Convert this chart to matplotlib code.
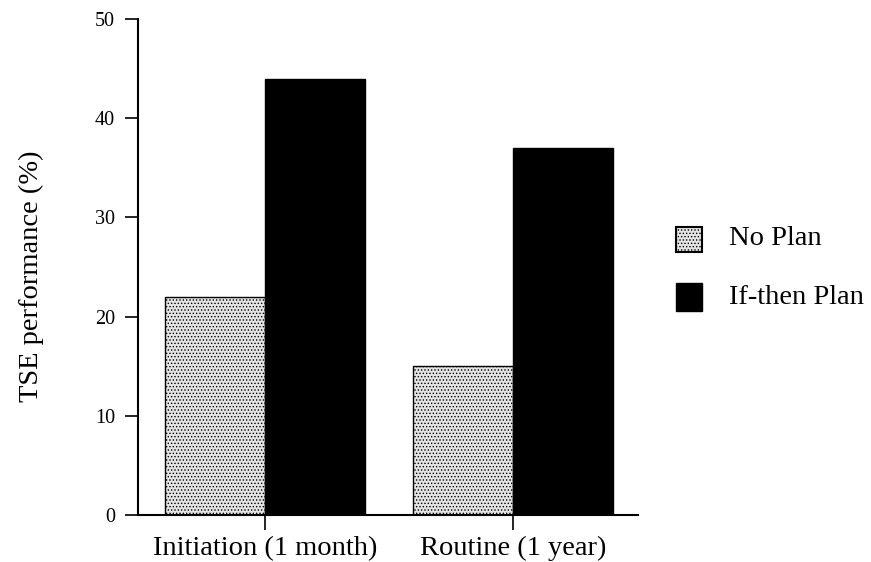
import matplotlib
matplotlib.use("Agg")
import matplotlib.pyplot as plt
import numpy as np
from matplotlib.patches import Rectangle

categories = ["Initiation (1 month)", "Routine (1 year)"]
series_names = ["No Plan", "If-then Plan"]
no_plan = [22, 15]
if_then = [44, 37]
yticks = [0, 10, 20, 30, 40, 50]

plt.rcParams['font.family'] = ['Liberation Serif', 'DejaVu Serif']
plt.rcParams['hatch.color'] = '#555555'
plt.rcParams['hatch.linewidth'] = 0.6

fig = plt.figure(figsize=(8.71, 5.62), dpi=100)
ax = fig.add_axes([138/871, 1-515/562, 500/871, 496/562])

x = np.arange(len(categories))
w = 100/248
ax.bar(x - w/2, no_plan, w, facecolor='#e4e4e4', edgecolor='black', hatch='.....', linewidth=1.0)
ax.bar(x + w/2, if_then, w, facecolor='black', edgecolor='black', linewidth=1.0)

ax.set_xlim((138-265)/248, (638-265)/248)
ax.set_ylim(0, 50)
ax.set_yticks(yticks)
ax.set_xticks(x)
ax.set_xticklabels(categories, fontsize=20.5)
ax.tick_params(axis='y', labelsize=14.5, length=9.5, width=1.2, direction='out', pad=7)
ax.tick_params(axis='x', length=11, width=1.2, direction='out', pad=4)
ax.spines['top'].set_visible(False)
ax.spines['right'].set_visible(False)
ax.spines['left'].set_linewidth(1.5)
ax.spines['bottom'].set_linewidth(1.5)

def fx(px): return px/871
def fy(py): return 1-py/562

fig.text(fx(31), fy(276), "TSE performance (%)", fontsize=20.5, rotation=90,
         ha='center', va='center')

sq = 26
fig.patches.append(Rectangle((fx(676), fy(252)), sq/871, 25/562, transform=fig.transFigure,
                             facecolor='#e4e4e4', edgecolor='black', hatch='.....', linewidth=1.5))
fig.patches.append(Rectangle((fx(676), fy(311)), sq/871, 28/562, transform=fig.transFigure,
                             facecolor='black', edgecolor='black', linewidth=1.0))
fig.text(fx(729), fy(238), series_names[0], fontsize=20.5, va='center', ha='left')
fig.text(fx(729), fy(297), series_names[1], fontsize=20.5, va='center', ha='left')

fig.savefig("out.png", dpi=100)
